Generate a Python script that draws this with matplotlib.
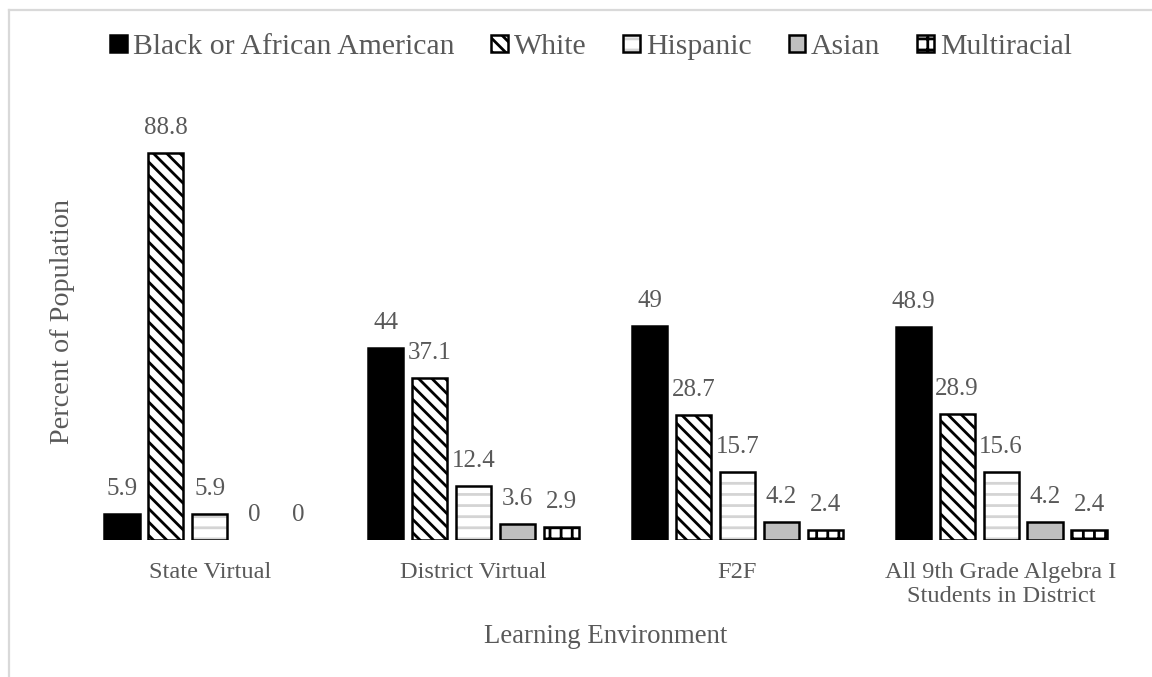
import matplotlib
matplotlib.use("Agg")
import matplotlib.pyplot as plt
from matplotlib.patches import Patch
from matplotlib.lines import Line2D

environments = ["State Virtual", "District Virtual", "F2F",
                "All 9th Grade Algebra I\nStudents in District"]
groups = ["Black or African American", "White", "Hispanic", "Asian", "Multiracial"]
black = [5.9, 44, 49, 48.9]
white = [88.8, 37.1, 28.7, 28.9]
hispanic = [5.9, 12.4, 15.7, 15.6]
asian = [0, 3.6, 4.2, 4.2]
multiracial = [0, 2.9, 2.4, 2.4]
series = [black, white, hispanic, asian, multiracial]

TEXT = "#595959"
plt.rcParams["font.family"] = ["Liberation Serif", "DejaVu Serif"]
plt.rcParams["hatch.linewidth"] = 1.0

EDGE_LW = 0.9
# fill styles for each group: face, hatch, hatch colour
styles = [
    dict(face="black", hatch=None, hcolor="black"),
    dict(face="white", hatch="\\" * 5, hcolor="black"),
    dict(face="white", hatch="---", hcolor="#d4d4d4"),
    dict(face="#bfbfbf", hatch=None, hcolor="black"),
    dict(face="white", hatch="+++", hcolor="black"),
]

fig = plt.figure(figsize=(5.76, 3.385), dpi=200)
ax = fig.add_axes([0.0677, 0.2024, 0.9158, 0.644])

slot = 1 / 6
width = 0.8 * slot
xs = range(len(environments))
for i, (vals, st) in enumerate(zip(series, styles)):
    pos = [x + (i - 2) * slot for x in xs]
    # fill + hatch layer
    fill = ax.bar(pos, vals, width, color=st["face"], edgecolor=st["hcolor"],
                  hatch=st["hatch"], linewidth=0)
    # outline layer
    outline = ax.bar(pos, vals, width, fill=False, edgecolor="black",
                     linewidth=EDGE_LW)
    for v, b1, b2 in zip(vals, fill, outline):
        if v == 0:
            b1.set_visible(False)
            b2.set_visible(False)
    for p, v in zip(pos, vals):
        ax.annotate(f"{v:g}", (p, v), xytext=(0, 5), textcoords="offset points",
                    ha="center", va="bottom", fontsize=9, color=TEXT)

ax.set_xlim(-0.5, len(environments) - 0.5)
ax.set_ylim(0, 100)
ax.set_xticks(list(xs))
ax.set_xticklabels(environments, fontsize=8.8, color=TEXT, linespacing=1.2)
ax.tick_params(axis="x", length=0, pad=8)
ax.set_yticks([])
for s in ax.spines.values():
    s.set_visible(False)

ax.set_xlabel("Learning Environment", fontsize=9.7, color=TEXT, va="center")
ax.xaxis.set_label_coords(0.5, -0.2225)
ax.set_ylabel("Percent of Population", fontsize=10.2, color=TEXT, va="center")
ax.yaxis.set_label_coords(-0.015, 0.5)

handles = []
for st in styles:
    f = Patch(facecolor=st["face"], edgecolor=st["hcolor"], hatch=st["hatch"], linewidth=0)
    o = Patch(fill=False, edgecolor="black", linewidth=EDGE_LW)
    handles.append((f, o))
leg = fig.legend(handles, groups, loc="center", ncol=5, frameon=False,
                 bbox_to_anchor=(591 / 1152, 1 - 47 / 677), fontsize=10.7,
                 handlelength=0.55, handleheight=0.55, handletextpad=0.2,
                 columnspacing=1.25, borderpad=0)
for t in leg.get_texts():
    t.set_color(TEXT)

# light frame around the chart area
border = dict(transform=fig.transFigure, color="#d9d9d9", linewidth=0.8)
fig.add_artist(Line2D([9 / 1152, 9 / 1152], [0, 1 - 10 / 677], **border))
fig.add_artist(Line2D([9 / 1152, 1], [1 - 10 / 677, 1 - 10 / 677], **border))

fig.savefig("out.png", dpi=200)
